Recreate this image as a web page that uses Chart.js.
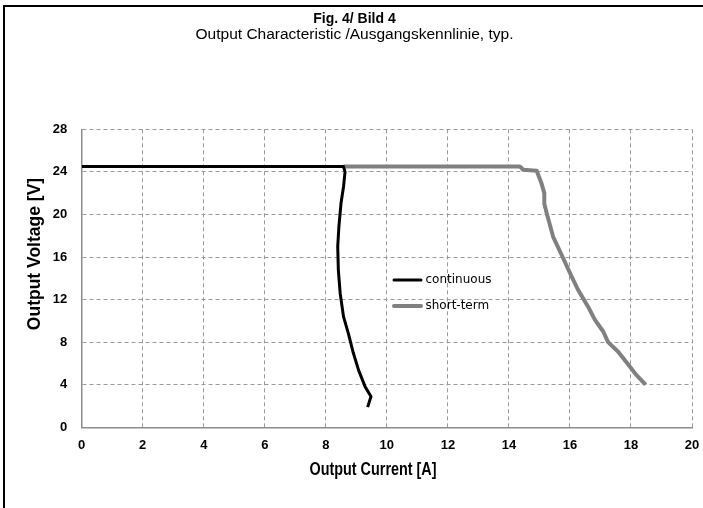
<!DOCTYPE html>
<html>
<head>
<meta charset="utf-8">
<script src="https://cdn.jsdelivr.net/npm/chart.js@4/dist/chart.umd.min.js"></script>
<style>
  html, body { margin: 0; padding: 0; background: #fff; }
  #wrap { position: relative; width: 703px; height: 508px; overflow: hidden; }
  #frame { position: absolute; left: 3px; top: 5px; width: 800px; height: 600px;
           border-left: 2px solid #000; border-top: 2px solid #000; pointer-events: none; }
</style>
</head>
<body>
<div id="wrap">
  <canvas id="c" width="703" height="508"></canvas>
  <div id="frame"></div>
</div>
<script>
// ---- data ----
const titleText = "Fig. 4/ Bild 4";
const subtitleText = "Output Characteristic /Ausgangskennlinie, typ.";
const xAxisTitle = "Output Current [A]";
const yAxisTitle = "Output Voltage [V]";
const seriesNames = ["continuous", "short-term"];

const continuousCurrent = [0, 8.58, 8.63, 8.58, 8.50, 8.43, 8.39, 8.41, 8.47, 8.58, 8.74, 8.90, 9.07, 9.29, 9.48, 9.37];
const continuousVoltage = [24.5, 24.5, 24.0, 22.6, 21.1, 18.9, 17.0, 14.8, 12.6, 10.4, 8.8, 7.0, 5.4, 3.8, 2.9, 1.9];

const shortTermCurrent = [8.58, 14.36, 14.47, 14.91, 15.07, 15.16, 15.16, 15.24, 15.45, 15.76, 16.0, 16.27, 16.6, 16.82, 17.09, 17.25, 17.58, 17.91, 18.18, 18.48];
const shortTermVoltage = [24.5, 24.5, 24.2, 24.1, 22.9, 22.0, 21.0, 20.1, 17.9, 16.0, 14.5, 12.9, 11.3, 10.1, 9.0, 8.0, 7.1, 5.9, 4.9, 4.0];

const xTicks = [0, 2, 4, 6, 8, 10, 12, 14, 16, 18, 20];
const yTicks = [0, 4, 8, 12, 16, 20, 24, 28];

// ---- styling ----
const FONT = "'Liberation Sans', Arial, sans-serif";
const toPoints = (xs, ys) => xs.map((x, i) => ({ x: x, y: ys[i] }));

const legendPlugin = {
  id: 'insideLegend',
  afterDatasetsDraw(chart) {
    const ctx = chart.ctx;
    const rows = [280, 306];
    ctx.save();
    chart.data.datasets.forEach((ds, i) => {
      const y = rows[i];
      ctx.strokeStyle = ds.borderColor;
      ctx.lineWidth = ds.borderWidth;
      ctx.lineCap = 'round';
      ctx.beginPath();
      ctx.moveTo(394, y);
      ctx.lineTo(421, y);
      ctx.stroke();
      ctx.fillStyle = '#000';
      ctx.font = "12px 'DejaVu Sans'";
      ctx.textBaseline = 'middle';
      ctx.textAlign = 'left';
      ctx.fillText(ds.label, 425.5, y);
    });
    ctx.restore();
  }
};

const axisTitlePlugin = {
  id: 'axisTitles',
  afterDraw(chart) {
    const ctx = chart.ctx;
    ctx.save();
    ctx.fillStyle = '#000';
    ctx.font = "bold 17.5px " + FONT;
    ctx.textAlign = 'center';
    ctx.textBaseline = 'alphabetic';
    // x title (horizontally condensed as in the reference)
    ctx.fillText(xAxisTitle, 373, 474.5, 127);
    // y title
    ctx.translate(39.5, 254);
    ctx.rotate(-Math.PI / 2);
    ctx.fillText(yAxisTitle, 0, 0);
    ctx.restore();
  }
};

new Chart(document.getElementById('c'), {
  type: 'scatter',
  data: {
    datasets: [
      {
        label: seriesNames[0],
        data: toPoints(continuousCurrent, continuousVoltage),
        showLine: true,
        borderColor: '#000000',
        backgroundColor: '#000000',
        borderWidth: 3,
        pointRadius: 0,
        tension: 0,
        borderJoinStyle: 'round',
        order: 0
      },
      {
        label: seriesNames[1],
        data: toPoints(shortTermCurrent, shortTermVoltage),
        showLine: true,
        borderColor: '#808080',
        backgroundColor: '#808080',
        borderWidth: 4,
        pointRadius: 0,
        tension: 0,
        borderJoinStyle: 'round',
        order: 1
      }
    ]
  },
  options: {
    responsive: false,
    animation: false,
    devicePixelRatio: 1,
    layout: { padding: { left: 17, right: 11, top: 0, bottom: 0 } },
    plugins: {
      legend: { display: false },
      tooltip: { enabled: false },
      title: {
        display: true,
        text: titleText,
        color: '#000',
        font: { family: FONT, size: 14, weight: 'bold', lineHeight: 1.0 },
        padding: { top: 11.8, bottom: 0 }
      },
      subtitle: {
        display: true,
        text: subtitleText,
        color: '#000',
        font: { family: FONT, size: 15.5, weight: 'normal', lineHeight: 1.0 },
        padding: { top: 1, bottom: 87 }
      }
    },
    scales: {
      x: {
        type: 'linear',
        min: 0,
        max: 20,
        afterBuildTicks: (s) => { s.ticks = xTicks.map(v => ({ value: v })); },
        afterFit: (s) => { s.height = 80.7; s.paddingLeft = 0; s.paddingRight = 0; },
        ticks: {
          color: '#000',
          padding: 10,
          font: { family: FONT, size: 13, weight: 'bold' }
        },
        grid: {
          color: '#9a9a9a',
          lineWidth: 1,
          drawTicks: false
        },
        border: { display: true, color: '#8c8c8c', width: 1.5, dash: [4, 3] },
        title: { display: false }
      },
      y: {
        type: 'linear',
        min: 0,
        max: 28,
        afterBuildTicks: (s) => { s.ticks = yTicks.map(v => ({ value: v })); },
        afterFit: (s) => { s.width = 64.7; s.paddingTop = 0; s.paddingBottom = 0; },
        ticks: {
          color: '#000',
          padding: 14.5,
          font: { family: FONT, size: 13, weight: 'bold' }
        },
        grid: {
          color: '#9a9a9a',
          lineWidth: 1,
          drawTicks: false
        },
        border: { display: true, color: '#8c8c8c', width: 1.5, dash: [4, 3] },
        title: { display: false }
      }
    }
  },
  plugins: [legendPlugin, axisTitlePlugin]
});
</script>
</body>
</html>
